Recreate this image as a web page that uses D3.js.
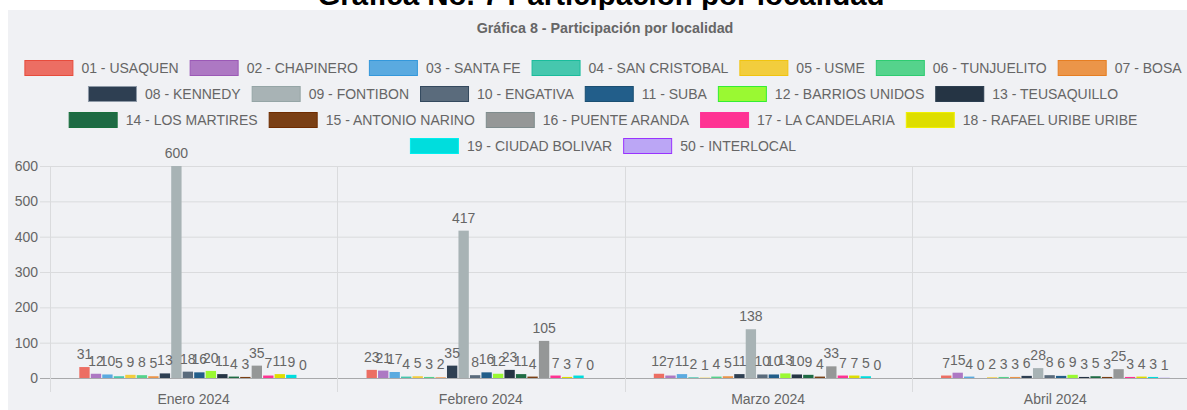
<!DOCTYPE html>
<html><head><meta charset="utf-8">
<script src="https://cdn.jsdelivr.net/npm/d3@7/dist/d3.min.js"></script>
<style>
body{margin:0;background:#fff;overflow:hidden}
svg{display:block;font-family:"Liberation Sans",Arial,Helvetica,sans-serif}
</style>
</head><body>
<svg id="c" width="1187" height="410"></svg>
<script>
// ---- data ----
const categories = ["Enero 2024", "Febrero 2024", "Marzo 2024", "Abril 2024"];
const seriesNames = ["01 - USAQUEN","02 - CHAPINERO","03 - SANTA FE","04 - SAN CRISTOBAL","05 - USME","06 - TUNJUELITO","07 - BOSA","08 - KENNEDY","09 - FONTIBON","10 - ENGATIVA","11 - SUBA","12 - BARRIOS UNIDOS","13 - TEUSAQUILLO","14 - LOS MARTIRES","15 - ANTONIO NARINO","16 - PUENTE ARANDA","17 - LA CANDELARIA","18 - RAFAEL URIBE URIBE","19 - CIUDAD BOLIVAR","50 - INTERLOCAL"];
const valuesEnero   = [31, 12, 10, 5, 9, 8, 5, 13, 600, 18, 16, 20, 11, 4, 3, 35, 7, 11, 9, 0];
const valuesFebrero = [23, 21, 17, 4, 5, 3, 2, 35, 417, 8, 16, 12, 23, 11, 4, 105, 7, 3, 7, 0];
const valuesMarzo   = [12, 7, 11, 2, 1, 4, 5, 11, 138, 10, 10, 13, 10, 9, 4, 33, 7, 7, 5, 0];
const valuesAbril   = [7, 15, 4, 0, 2, 3, 3, 6, 28, 8, 6, 9, 3, 5, 3, 25, 3, 4, 3, 1];
const yTicks = [0, 100, 200, 300, 400, 500, 600];
const fillColors   = ["#EC6E63","#AD78C3","#5AAAE0","#46C7AE","#F2CD3D","#55D38C","#EB9549","#2E3F52","#A8B3B5","#5A6B7C","#225E8A","#9AF932","#253444","#1E6B44","#7A3F14","#959797","#FF3393","#DEDE00","#00DDDD","#BBA6F5"];
const strokeColors = ["#E74C3C","#9B59B6","#3498DB","#1ABC9C","#F1C40F","#2ECC71","#E67E22","#8D99A6","#95A5A6","#34495E","#1B4F72","#33EE33","#2C3E50","#196F3D","#6E2C00","#7F8C8D","#FF3399","#F0F000","#00EEEE","#9933FF"];
const monthValues = [valuesEnero, valuesFebrero, valuesMarzo, valuesAbril];

// ---- drawing ----
const svg = d3.select("#c");
const textCol = "#666";

// title (partially cut at top)
svg.append("text").attr("x", 601).attr("y", 5).attr("text-anchor", "middle")
  .attr("font-size", 29.5).attr("font-weight", "bold").attr("fill", "#000")
  .text("Gráfica No. 7 Participación por localidad");

// panel
svg.append("rect").attr("x", 8).attr("y", 10).attr("width", 1179).attr("height", 400).attr("fill", "#F0F1F4");

svg.append("text").attr("x", 605).attr("y", 33).attr("text-anchor", "middle")
  .attr("font-size", 14.3).attr("font-weight", "bold").attr("fill", textCol)
  .text("Gráfica 8 - Participación por localidad");

// legend
const boxW = 48, boxH = 15, txtOff = 57, itemGap = 11, maxRow = 1175, centerX = 603, row0 = 68, rowStep = 26;
const lg = svg.append("g");
const items = seriesNames.map((n, i) => {
  const t = lg.append("text").attr("font-size", 14).attr("fill", textCol).text(n);
  return {i, t, w: txtOff + t.node().getComputedTextLength()};
});
const rows = [];
let cur = [], curW = 0;
items.forEach(it => {
  const add = (cur.length ? itemGap : 0) + it.w;
  if (cur.length && curW + add > maxRow) { rows.push({items: cur, w: curW}); cur = []; curW = 0; }
  curW += (cur.length ? itemGap : 0) + it.w; cur.push(it);
});
rows.push({items: cur, w: curW});
rows.forEach((r, ri) => {
  let x = centerX - r.w / 2;
  const cy = row0 + ri * rowStep;
  r.items.forEach(it => {
    lg.append("rect").attr("x", x + 0.5).attr("y", cy - boxH / 2).attr("width", boxW).attr("height", boxH)
      .attr("fill", fillColors[it.i]).attr("stroke", strokeColors[it.i]).attr("stroke-width", 1);
    it.t.attr("x", x + txtOff).attr("y", cy + 5);
    x += it.w + itemGap;
  });
});

// scales
const x0 = d3.scaleBand().domain(categories).range([50, 1199]).paddingInner(0).paddingOuter(0);
const x1 = d3.scaleBand().domain(d3.range(seriesNames.length))
  .range([x0.bandwidth() * 0.1, x0.bandwidth() * 0.9]).paddingInner(0.1).paddingOuter(0.05);
const y = d3.scaleLinear().domain([0, 600]).range([378, 166]);

// grid
const grid = svg.append("g");
yTicks.forEach(t => {
  grid.append("line").attr("x1", 40).attr("x2", 1199).attr("y1", y(t) + 0.5).attr("y2", y(t) + 0.5)
    .attr("stroke", t === 0 ? "#A8A9AB" : "#DADBDD").attr("stroke-width", 1);
  grid.append("text").attr("x", 38).attr("y", y(t) + 5).attr("text-anchor", "end")
    .attr("font-size", 14).attr("fill", textCol).text(t);
});
const bounds = categories.map(c => x0(c)).concat([x0.range()[1]]);
bounds.forEach(b => {
  grid.append("line").attr("x1", Math.round(b) + 0.5).attr("x2", Math.round(b) + 0.5)
    .attr("y1", y(600)).attr("y2", 392).attr("stroke", "#DADBDD").attr("stroke-width", 1);
});

// x labels
categories.forEach(c => {
  svg.append("text").attr("x", x0(c) + x0.bandwidth() / 2).attr("y", 404).attr("text-anchor", "middle")
    .attr("font-size", 14).attr("fill", textCol).text(c);
});

// bars
const bars = svg.append("g");
categories.forEach((c, ci) => {
  const vals = monthValues[ci];
  vals.forEach((v, si) => {
    const bx = x0(c) + x1(si);
    bars.append("rect").attr("x", bx).attr("y", y(v)).attr("width", x1.bandwidth())
      .attr("height", y(0) - y(v)).attr("fill", fillColors[si]);
  });
  vals.forEach((v, si) => {
    const bx = x0(c) + x1(si) + x1.bandwidth() / 2;
    bars.append("text").attr("x", bx).attr("y", y(v) - 8).attr("text-anchor", "middle")
      .attr("font-size", 14).attr("fill", textCol).text(v);
  });
});
</script>
</body></html>
